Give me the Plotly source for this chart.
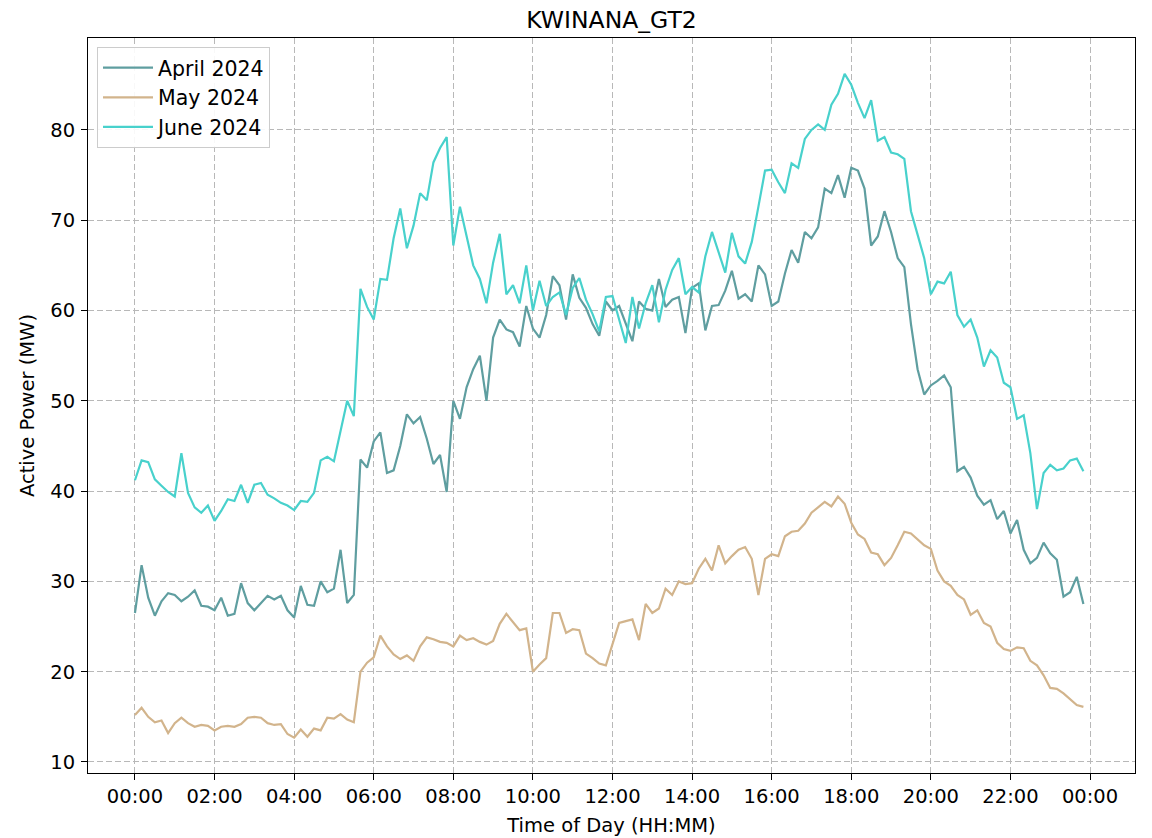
import plotly.graph_objects as go

# 10-minute samples from 00:00 to 23:50
april = [26.5, 31.8, 28.2, 26.2, 27.8, 28.7, 28.5, 27.8, 28.3, 29.0, 27.3, 27.2,
         26.8, 28.2, 26.2, 26.4, 29.8, 27.6, 26.8, 27.6, 28.4, 28.0, 28.4, 26.8,
         26.0, 29.5, 27.4, 27.3, 30.0, 28.8, 29.2, 33.5, 27.6, 28.5, 43.5, 42.6,
         45.5, 46.5, 42.0, 42.3, 45.0, 48.5, 47.5, 48.2, 45.8, 43.0, 44.0, 39.9,
         50.0, 48.0, 51.5, 53.5, 55.0, 50.0, 57.0, 59.0, 57.9, 57.6, 56.0, 60.5,
         58.0, 57.0, 59.5, 63.8, 62.8, 59.0, 64.0, 61.4, 60.3, 58.5, 57.2, 61.0,
         60.0, 60.5, 58.5, 56.6, 61.0, 60.2, 60.0, 63.5, 60.4, 61.2, 61.5, 57.5,
         62.5, 63.0, 57.8, 60.5, 60.6, 62.2, 64.4, 61.3, 61.8, 61.0, 65.0, 64.0,
         60.5, 61.0, 64.1, 66.7, 65.3, 68.7, 68.0, 69.2, 73.5, 73.0, 75.0, 72.5,
         75.8, 75.5, 73.5, 67.2, 68.2, 71.0, 68.7, 65.8, 64.8, 58.5, 53.5, 50.7,
         51.7, 52.2, 52.8, 51.5, 42.2, 42.7, 41.5, 39.5, 38.5, 39.0, 36.9, 37.8,
         35.3, 36.8, 33.5, 32.0, 32.6, 34.3, 33.1, 32.4, 28.3, 28.8, 30.5, 27.5]

may = [15.2, 16.0, 15.0, 14.4, 14.6, 13.2, 14.3, 14.9, 14.3, 13.9, 14.1, 14.0,
       13.5, 13.9, 14.0, 13.9, 14.2, 14.9, 15.0, 14.9, 14.3, 14.1, 14.2, 13.1,
       12.7, 13.6, 12.8, 13.7, 13.5, 14.9, 14.8, 15.3, 14.7, 14.4, 20.0, 21.0,
       21.6, 24.0, 22.8, 21.9, 21.4, 21.8, 21.2, 22.8, 23.8, 23.6, 23.3, 23.2,
       22.8, 24.0, 23.5, 23.7, 23.3, 23.0, 23.4, 25.3, 26.4, 25.5, 24.6, 24.8,
       20.0, 20.8, 21.5, 26.5, 26.5, 24.3, 24.7, 24.6, 22.0, 21.5, 20.9, 20.7,
       23.0, 25.4, 25.6, 25.8, 23.5, 27.5, 26.5, 27.0, 29.2, 28.5, 30.0, 29.7,
       29.8, 31.4, 32.5, 31.2, 34.0, 32.0, 32.8, 33.5, 33.8, 32.5, 28.5, 32.5,
       33.0, 32.8, 35.0, 35.5, 35.6, 36.4, 37.6, 38.2, 38.8, 38.3, 39.4, 38.6,
       36.5, 35.2, 34.7, 33.2, 33.0, 31.8, 32.6, 34.0, 35.5, 35.3, 34.6, 34.0,
       33.6, 31.2, 30.0, 29.5, 28.5, 28.0, 26.3, 26.8, 25.4, 25.0, 23.2, 22.5,
       22.3, 22.7, 22.6, 21.2, 20.7, 19.6, 18.2, 18.1, 17.6, 17.0, 16.3, 16.1]

june = [41.2, 43.4, 43.2, 41.3, 40.6, 39.9, 39.4, 44.2, 39.8, 38.2, 37.6, 38.4,
        36.7, 37.8, 39.1, 38.9, 40.7, 38.7, 40.7, 40.9, 39.6, 39.2, 38.7, 38.4,
        37.9, 38.9, 38.8, 39.8, 43.4, 43.8, 43.3, 46.8, 50.0, 48.3, 62.4, 60.4,
        59.0, 63.5, 63.4, 68.0, 71.3, 66.9, 69.4, 73.0, 72.2, 76.4, 78.0, 79.2,
        67.2, 71.5, 68.4, 65.0, 63.5, 60.8, 65.3, 68.5, 61.8, 62.8, 60.8, 65.0,
        60.0, 63.3, 60.5, 61.5, 62.0, 59.5, 62.5, 63.6, 61.2, 59.6, 57.7, 61.5,
        61.6, 58.9, 56.4, 61.5, 58.0, 60.8, 62.8, 58.7, 62.3, 64.5, 65.8, 61.8,
        62.6, 62.0, 66.0, 68.7, 66.5, 64.2, 68.6, 66.0, 65.2, 67.6, 71.5, 75.5,
        75.6, 74.2, 73.0, 76.3, 75.8, 79.0, 80.0, 80.6, 80.0, 82.8, 84.0, 86.2,
        85.0, 83.0, 81.3, 83.3, 78.8, 79.2, 77.5, 77.3, 76.8, 71.0, 68.4, 65.8,
        61.8, 63.2, 63.0, 64.3, 59.5, 58.2, 59.0, 57.0, 53.8, 55.6, 54.8, 52.0,
        51.5, 48.0, 48.4, 44.2, 38.0, 42.0, 42.9, 42.3, 42.5, 43.4, 43.6, 42.2]

tick_hours = [0, 2, 4, 6, 8, 10, 12, 14, 16, 18, 20, 22, 24]
tick_labels = ["00:00", "02:00", "04:00", "06:00", "08:00", "10:00", "12:00",
               "14:00", "16:00", "18:00", "20:00", "22:00", "00:00"]
y_ticks = [10, 20, 30, 40, 50, 60, 70, 80]

series = [("April 2024", april, "#5F9EA0"),
          ("May 2024", may, "#D2B48C"),
          ("June 2024", june, "#48D1CC")]

fig = go.Figure()
for name, vals, color in series:
    hours = [i / 6 for i in range(len(vals))]
    fig.add_trace(go.Scatter(x=hours, y=vals, mode="lines", name=name,
                             line=dict(color=color, width=2.2)))

font = "DejaVu Sans, Arial, sans-serif"
axis_common = dict(showline=True, linecolor="black", linewidth=1, mirror=True,
                   ticks="outside", ticklen=6, tickcolor="black",
                   showgrid=True, gridcolor="#b8b8b8", griddash="6px,3px",
                   gridwidth=1, zeroline=False, automargin=False,
                   tickfont=dict(family=font, size=19.5, color="black"))

fig.update_layout(
    width=1144, height=830,
    paper_bgcolor="white", plot_bgcolor="white",
    margin=dict(l=80, r=17, t=30, b=65),
    title=dict(text="KWINANA_GT2", x=0.5, xref="paper", xanchor="center",
               y=1 - 12 / 830, yref="container", yanchor="middle",
               font=dict(family=font, size=23.5, color="black")),
    xaxis=dict(range=[-1.18, 25.13], tickvals=tick_hours, ticktext=tick_labels,
               title=dict(text="Time of Day (HH:MM)", standoff=10,
                          font=dict(family=font, size=19.5, color="black")),
               **axis_common),
    yaxis=dict(range=[8.78, 90.18], tickvals=y_ticks,
               ticklabelstandoff=2,
               title=dict(text="Active Power (MW)", standoff=10,
                          font=dict(family=font, size=19.5, color="black")),
               **axis_common),
    legend=dict(x=0.0086, y=0.988, xanchor="left", yanchor="top",
                itemwidth=50,
                bgcolor="rgba(255,255,255,0.9)", bordercolor="#cccccc",
                borderwidth=1, font=dict(family=font, size=20.5, color="black")),
    showlegend=True,
)

fig.write_html("out.html")
